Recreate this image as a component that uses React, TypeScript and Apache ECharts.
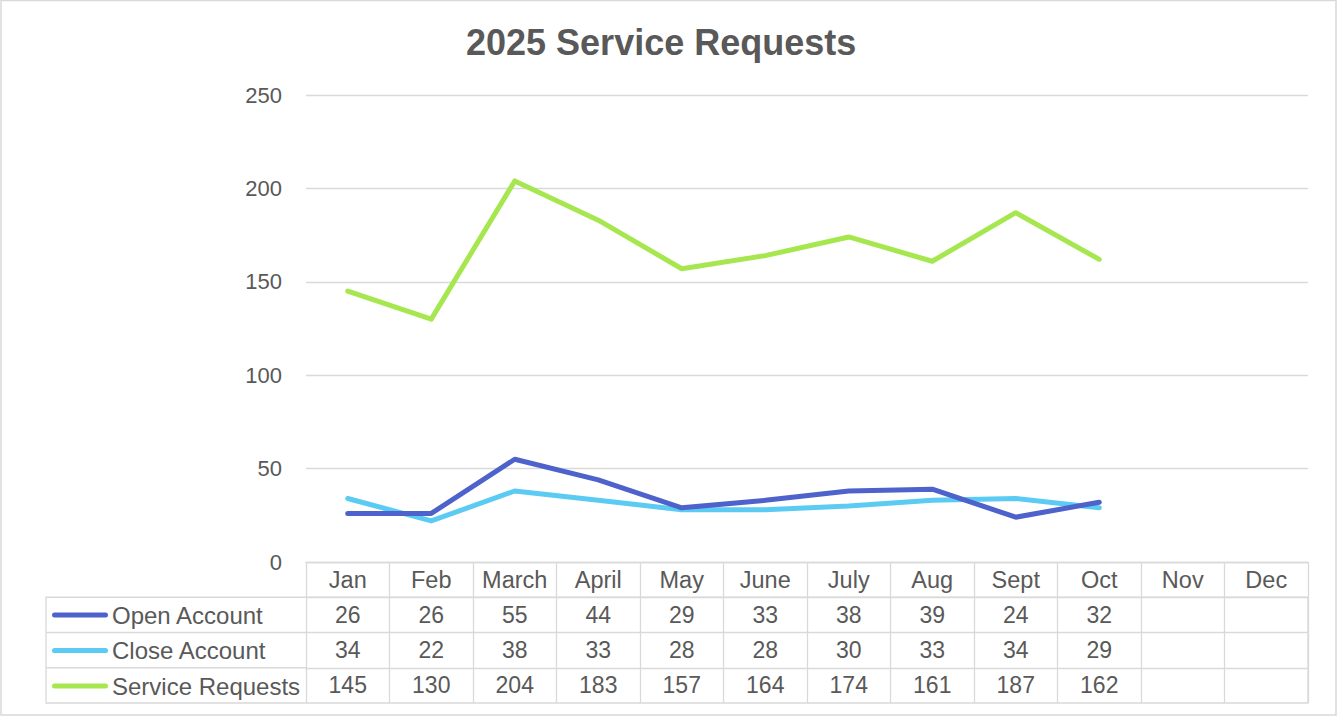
import React, { useEffect, useRef } from "react";
import * as echarts from "echarts";

const months = ["Jan", "Feb", "March", "April", "May", "June", "July", "Aug", "Sept", "Oct", "Nov", "Dec"];
const openAccount = [26, 26, 55, 44, 29, 33, 38, 39, 24, 32];
const closeAccount = [34, 22, 38, 33, 28, 28, 30, 33, 34, 29];
const serviceRequests = [145, 130, 204, 183, 157, 164, 174, 161, 187, 162];
const seriesNames = ["Open Account", "Close Account", "Service Requests"];
const seriesColors = ["#4E62CB", "#5CCBF4", "#A6E64E"];
const yTicks = { min: 0, max: 250, interval: 50 };

const FONT = "'Liberation Sans', Arial, sans-serif";
const TXT = "#595959";
const LINE = "#D9D9D9";
const PILL = "path://M2.5,0 L53.5,0 A2.5,2.5 0 0 1 53.5,5 L2.5,5 A2.5,2.5 0 0 1 2.5,0 Z";

export default function App() {
  const ref = useRef<HTMLDivElement>(null);
  useEffect(() => {
    const chart = echarts.init(ref.current!, null, { renderer: "svg" });
    const values = [openAccount, closeAccount, serviceRequests];
    const rowH = 35.25;
    const padded = (arr: number[]) => months.map((_, i) => (i < arr.length ? String(arr[i]) : ""));
    const labelStyle = (size: number) => ({
      fontSize: size,
      color: TXT,
      fontFamily: FONT,
      margin: rowH / 2,
      verticalAlign: "middle" as const,
      interval: 0,
    });
    const xAxes: any[] = [
      {
        type: "category",
        data: months,
        position: "bottom",
        gridIndex: 0,
        axisLine: { show: true, lineStyle: { color: LINE, width: 1.3 } },
        axisTick: { show: true, length: rowH * 4, interval: 0, lineStyle: { color: LINE, width: 1.3 } },
        axisLabel: labelStyle(23.5),
        splitLine: { show: false },
      },
      ...values.map((arr, k) => ({
        type: "category",
        data: padded(arr),
        position: "bottom",
        gridIndex: 0,
        offset: rowH * (k + 1),
        axisLine: { show: true, lineStyle: { color: LINE, width: 1.3 } },
        axisTick: { show: false },
        axisLabel: labelStyle(23),
        splitLine: { show: false },
      })),
    ];
    const legendTops = [603, 638.5, 674];
    chart.setOption({
      animation: false,
      backgroundColor: "#ffffff",
      textStyle: { fontFamily: FONT },
      title: {
        text: "2025 Service Requests",
        left: 466,
        top: 24,
        padding: 0,
        textStyle: { fontSize: 36, fontWeight: "bold", color: TXT, fontFamily: FONT },
      },
      legend: seriesNames.map((n, i) => ({
        data: [{ name: n, icon: PILL }],
        left: 52,
        top: legendTops[i],
        padding: 0,
        itemWidth: 56,
        itemHeight: 5,
        selectedMode: false,
        textStyle: { fontSize: 24, color: TXT, fontFamily: FONT, lineHeight: 24, padding: [0, 0, 0, -1] },
      })),
      grid: { left: 306, right: 30, top: 95, bottom: 155, containLabel: false },
      xAxis: xAxes,
      yAxis: {
        type: "value",
        min: yTicks.min,
        max: yTicks.max,
        interval: yTicks.interval,
        axisLine: { show: false },
        axisTick: { show: false },
        axisLabel: { fontSize: 22, color: TXT, fontFamily: FONT, margin: 24 },
        splitLine: { lineStyle: { color: LINE, width: 1.3 } },
      },
      graphic: [
        {
          type: "rect",
          shape: { x: 1, y: 0.5, width: 1335, height: 714.5 },
          style: { fill: "none", stroke: LINE, lineWidth: 1.5 },
          silent: true,
        },
        {
          type: "rect",
          shape: { x: 46, y: 597.25, width: 1262, height: rowH * 3 },
          style: { fill: "none", stroke: LINE, lineWidth: 1.3 },
          silent: true,
        },
        {
          type: "line",
          shape: { x1: 46, y1: 597.25 + rowH, x2: 306, y2: 597.25 + rowH },
          style: { stroke: LINE, lineWidth: 1.3 },
          silent: true,
        },
        {
          type: "line",
          shape: { x1: 46, y1: 597.25 + rowH * 2, x2: 306, y2: 597.25 + rowH * 2 },
          style: { stroke: LINE, lineWidth: 1.3 },
          silent: true,
        },
      ],
      series: values.map((arr, i) => ({
        name: seriesNames[i],
        type: "line",
        xAxisIndex: 0,
        data: arr,
        symbol: "none",
        showSymbol: false,
        color: seriesColors[i],
        itemStyle: { color: seriesColors[i] },
        lineStyle: { color: seriesColors[i], width: 5, cap: "round", join: "round" },
        z: 3 + (2 - i),
      })),
    });
    return () => chart.dispose();
  }, []);
  return (
    <div
      ref={ref}
      style={{ position: "fixed", left: 0, top: 0, width: 1338, height: 717, background: "#fff" }}
    />
  );
}
